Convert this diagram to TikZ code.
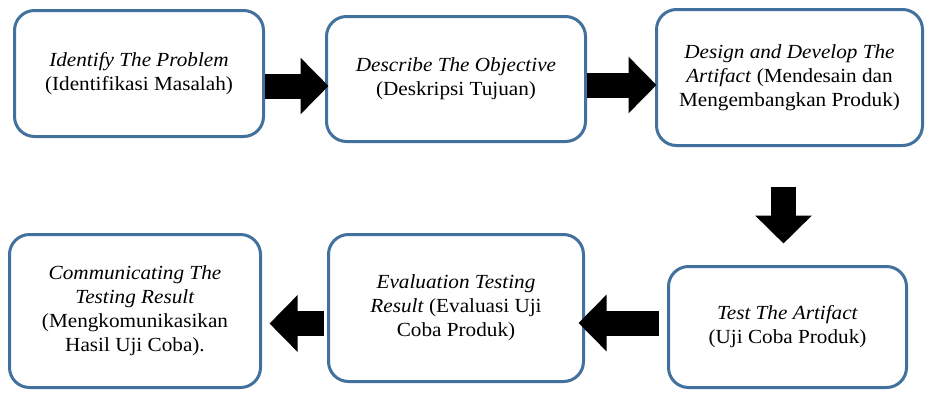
\documentclass[tikz,border=0pt]{standalone}
\usepackage{fontspec}
\setmainfont{Liberation Serif}[FakeStretch=1.06]
\usetikzlibrary{arrows.meta}
\definecolor{boxblue}{HTML}{41719C}
\begin{document}
\begin{tikzpicture}[x=1pt,y=-1pt,
  stepbox/.style={draw=boxblue, line width=3pt, fill=white, rounded corners=20pt,
    align=center, inner sep=0pt, font=\fontsize{20}{24}\selectfont},
  blk/.style={draw=black, line width=25pt, line cap=butt,
    -{Triangle[length=28pt,width=55pt]}}]
\useasboundingbox (0,0) rectangle (926,392);
\node[stepbox, minimum width=249pt, minimum height=126pt] (b1) at (139,73.5)
  {\textit{Identify The Problem}\\(Identifikasi Masalah)};
\node[stepbox, minimum width=259pt, minimum height=125pt] (b2) at (456,79)
  {\textit{Describe The Objective}\\(Deskripsi Tujuan)};
\node[stepbox, minimum width=266pt, minimum height=136pt] (b3) at (789.5,77.5)
  {\textit{Design and Develop The}\\\textit{Artifact} (Mendesain dan\\Mengembangkan Produk)};
\node[stepbox, minimum width=251pt, minimum height=153pt] (b4) at (135,311)
  {\textit{Communicating The}\\\textit{Testing Result}\\(Mengkomunikasikan\\Hasil Uji Coba).};
\node[stepbox, minimum width=255pt, minimum height=147pt] (b5) at (456,308)
  {\textit{Evaluation Testing}\\\textit{Result} (Evaluasi Uji\\Coba Produk)};
\node[stepbox, minimum width=238pt, minimum height=121pt] (b6) at (787.5,327)
  {\textit{Test The Artifact}\\(Uji Coba Produk)};
\draw[blk, shorten >=-3.5pt] (b1.east |- 0,86) -- (b2.west |- 0,86);
\draw[blk, shorten >=-1.5pt] (b2.east |- 0,85) -- (b3.west |- 0,85);
\draw[blk, shorten <=39.5pt, shorten >=21.5pt] (b3.south -| 783.5,0) -- (b6.north -| 783.5,0);
\draw[blk, shorten <=8.5pt, shorten >=-6.5pt] (b6.west |- 0,323) -- (b5.east |- 0,323);
\draw[blk, shorten <=3.5pt, shorten >=7.5pt] (b5.west |- 0,323.5) -- (b4.east |- 0,323.5);
\end{tikzpicture}
\end{document}
